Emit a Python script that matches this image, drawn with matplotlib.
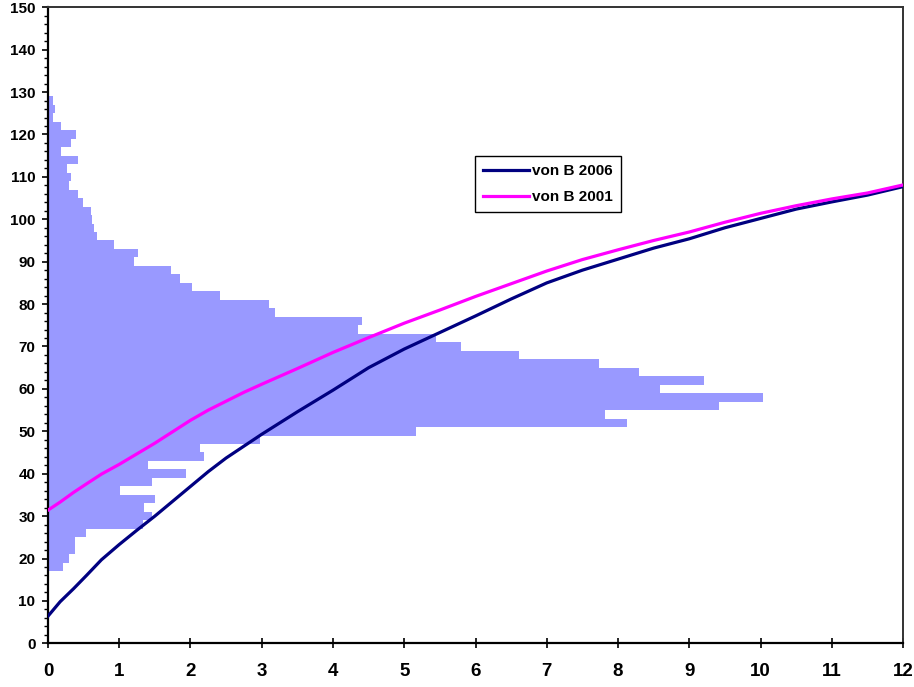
import matplotlib
matplotlib.use("Agg")
import matplotlib.pyplot as plt
from matplotlib.ticker import MultipleLocator

plt.rcParams['font.family'] = ['Liberation Sans', 'DejaVu Sans']

# length-class histogram: class centres (2 cm bins) and bar lengths
length_classes = [18, 20, 22, 24, 26, 28, 30, 32, 34, 36, 38, 40, 42, 44, 46,
                  48, 50, 52, 54, 56, 58, 60, 62, 64, 66, 68, 70, 72, 74, 76,
                  78, 80, 82, 84, 86, 88, 90, 92, 94, 96, 98, 100, 102, 104,
                  106, 108, 110, 112, 114, 116, 118, 120, 122, 124, 126, 128]
class_counts = [0.21, 0.29, 0.38, 0.38, 0.53, 1.33, 1.46, 1.35, 1.50, 1.01,
                1.46, 1.94, 1.41, 2.19, 2.13, 2.98, 5.16, 8.13, 7.82, 9.42,
                10.04, 8.59, 9.20, 8.29, 7.73, 6.61, 5.79, 5.45, 4.35, 4.40,
                3.19, 3.10, 2.42, 2.02, 1.85, 1.73, 1.21, 1.26, 0.92, 0.685,
                0.65, 0.615, 0.60, 0.49, 0.42, 0.29, 0.32, 0.27, 0.42, 0.18,
                0.32, 0.40, 0.18, 0.076, 0.094, 0.076]

# growth curves (age vs length)
age = [0, 0.17, 0.36, 0.54, 0.75, 1, 1.25, 1.5, 1.75, 2, 2.25, 2.5, 2.75, 3,
       3.5, 4, 4.5, 5, 5.5, 6, 6.5, 7, 7.5, 8, 8.5, 9, 9.5, 10, 10.5, 11,
       11.5, 12]
vonb_2006 = [6.4, 9.8, 12.9, 16.0, 19.7, 23.3, 26.7, 30.0, 33.5, 37.0, 40.5,
             43.7, 46.5, 49.3, 54.6, 59.7, 65.0, 69.4, 73.3, 77.2, 81.2, 85.0,
             88.0, 90.6, 93.2, 95.4, 98.0, 100.2, 102.4, 104.1, 105.7, 107.7]
vonb_2001 = [31.4, 33.3, 35.6, 37.6, 39.9, 42.2, 44.7, 47.2, 49.9, 52.6, 55.0,
             57.1, 59.2, 61.1, 64.8, 68.6, 72.1, 75.5, 78.6, 81.8, 84.8, 87.8,
             90.5, 92.8, 95.0, 97.0, 99.3, 101.4, 103.2, 104.8, 106.2, 108.1]

fig = plt.figure(figsize=(9.14, 6.87), dpi=100)
ax = fig.add_axes([0.0525, 0.0636, 0.9355, 0.9258])

ax.barh(length_classes, class_counts, height=2, left=0,
        color='#9999FF', edgecolor='none', zorder=1)
ax.plot(age, vonb_2006, color='#000080', lw=2.3, label='von B 2006', zorder=3)
ax.plot(age, vonb_2001, color='#FF00FF', lw=2.3, label='von B 2001', zorder=3)

ax.set_xlim(0, 12)
ax.set_ylim(0, 150)
ax.xaxis.set_major_locator(MultipleLocator(1))
ax.yaxis.set_major_locator(MultipleLocator(10))
ax.yaxis.set_minor_locator(MultipleLocator(2))

for side in ['left', 'bottom']:
    ax.spines[side].set_linewidth(1.6)
    ax.spines[side].set_color('black')
for side in ['top', 'right']:
    ax.spines[side].set_linewidth(1.4)
    ax.spines[side].set_color('#333333')

ax.tick_params(axis='x', direction='inout', length=7, width=1.2, pad=11,
               labelsize=13.5)
ax.tick_params(axis='y', which='major', direction='out', length=4, width=1.2,
               pad=5, labelsize=11)
ax.tick_params(axis='y', which='minor', direction='out', length=3, width=1.0)
for lbl in ax.get_xticklabels() + ax.get_yticklabels():
    lbl.set_fontweight('bold')

leg = ax.legend(loc='upper left', bbox_to_anchor=(0.5197, 0.7729),
                bbox_transform=fig.transFigure, borderaxespad=0,
                fancybox=False, shadow=False, framealpha=1,
                edgecolor='black', handlelength=3.0, handletextpad=0.2,
                borderpad=0.55, labelspacing=0.75,
                prop={'weight': 'bold', 'size': 11})
leg.get_frame().set_linewidth(1.0)

fig.savefig('out.png', dpi=100)
